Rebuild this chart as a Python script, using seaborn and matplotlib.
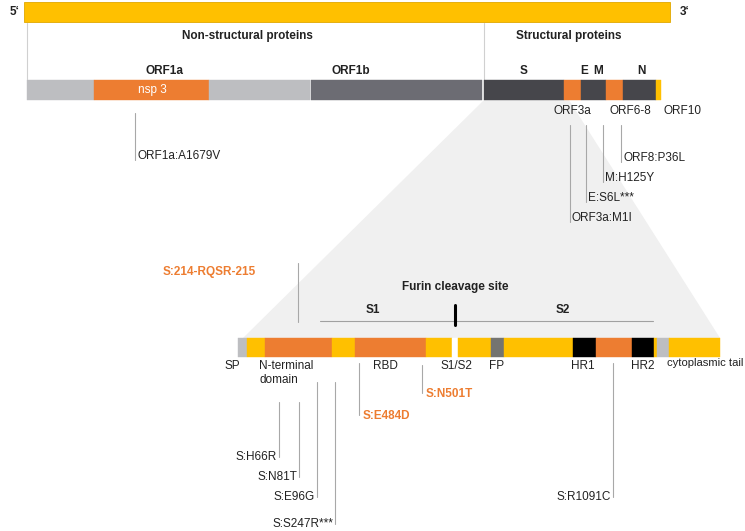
import matplotlib
matplotlib.use("Agg")
import matplotlib.pyplot as plt
import seaborn as sns

sns.set_theme(style="white")
plt.rcParams['font.family'] = ['Liberation Sans', 'DejaVu Sans']

# ---------------- data (diagram units) ----------------
YEL = "#FFC000"; ORA = "#ED7D31"; LG = "#BDBEC1"; G1B = "#6C6C73"
DK = "#46464B"; BLK = "#000000"; FPG = "#747470"; WHT = "#FFFFFF"

genome_start, genome_end = 24, 670

genome_seg_start = [27, 94, 209, 311, 484, 564, 581, 606, 623, 656]
genome_seg_end = [94, 209, 310, 482, 564, 581, 606, 623, 656, 661]
genome_seg_color = [LG, ORA, LG, G1B, DK, ORA, DK, ORA, DK, YEL]

genome_top_labels = ["ORF1a", "ORF1b", "S", "E", "M", "N"]
genome_top_x = [165, 351, 524, 584, 598, 641]
genome_bottom_labels = ["ORF3a", "ORF6-8", "ORF10"]
genome_bottom_x = [572, 630, 683]

genome_mut_labels = ["ORF1a:A1679V", "ORF3a:M1I", "E:S6L***", "M:H125Y", "ORF8:P36L"]
genome_mut_x = [135, 570, 586, 603, 621]
genome_mut_y0 = [113, 125, 125, 125, 125]
genome_mut_y1 = [160, 222, 202, 182, 162]

spike_seg_start = [238, 247, 265, 332, 355, 426, 452, 458, 491, 504, 573, 596, 632, 654, 657, 669]
spike_seg_end = [247, 265, 332, 355, 426, 452, 458, 491, 504, 573, 596, 632, 654, 657, 669, 720]
spike_seg_color = [LG, YEL, ORA, YEL, ORA, YEL, WHT, YEL, FPG, YEL, BLK, ORA, BLK, YEL, LG, YEL]

spike_labels = ["SP", "N-terminal", "domain", "RBD", "S1/S2", "FP", "HR1", "HR2", "cytoplasmic tail"]
spike_label_x = [240, 259, 259, 385, 456, 497, 583, 643, 667]
spike_label_y = [366, 366, 380, 366, 366, 366, 366, 366, 363]
spike_label_ha = ["right", "left", "left", "center", "center", "center", "center", "center", "left"]

spike_mut_labels = ["S:H66R", "S:N81T", "S:E96G", "S:S247R***", "S:E484D", "S:N501T", "S:R1091C", "S:214-RQSR-215"]
spike_mut_x = [279, 299, 317, 335, 359, 422, 613, 298]
spike_mut_y0 = [402, 402, 382, 382, 363, 365, 363, 263]
spike_mut_y1 = [457, 477, 497, 524, 415, 393, 497, 322]
spike_mut_key = [False, False, False, False, True, True, False, True]

# ---------------- figure ----------------
fig = plt.figure(figsize=(7.45, 5.31), dpi=100)
ax = fig.add_axes([0, 0, 1, 1])
ax.set_xlim(0, 745)
ax.set_ylim(531, 0)
ax.axis("off")

FS = 8.5
TXT = "#222222"
LINEC = "#A8A8A8"

# zoom wedge
ax.fill([484, 569, 720, 243], [100, 100, 338, 338], color="#F0F0F0", zorder=0, lw=0)

# top genome bar
ax.barh(12, genome_end - genome_start, left=genome_start, height=20, color=YEL,
        edgecolor="#E0A800", linewidth=0.6, zorder=2)
ax.text(10, 12, "5\u2018", fontsize=FS, fontweight="bold", va="center", ha="left", color=TXT)
ax.text(680, 12, "3\u2018", fontsize=FS, fontweight="bold", va="center", ha="left", color=TXT)

# divider lines
for xv in [27, 484]:
    ax.plot([xv, xv], [23, 79], color="#D0D0D0", lw=0.8, zorder=1)
ax.text(247, 36, "Non-structural proteins", fontsize=FS, fontweight="bold", ha="center", va="center", color=TXT)
ax.text(569, 36, "Structural proteins", fontsize=FS, fontweight="bold", ha="center", va="center", color=TXT)

# genome segments
for s, e, c in zip(genome_seg_start, genome_seg_end, genome_seg_color):
    ax.barh(90, e - s, left=s, height=20, color=c, edgecolor=c, linewidth=0.3, zorder=2)
ax.text(152, 90, "nsp 3", fontsize=FS, color="white", ha="center", va="center", zorder=3)
for lab, xv in zip(genome_top_labels, genome_top_x):
    ax.text(xv, 71, lab, fontsize=FS, fontweight="bold", ha="center", va="center", color=TXT)
for lab, xv in zip(genome_bottom_labels, genome_bottom_x):
    ax.text(xv, 111, lab, fontsize=FS, ha="center", va="center", color=TXT)

for lab, xv, y0, y1 in zip(genome_mut_labels, genome_mut_x, genome_mut_y0, genome_mut_y1):
    ax.plot([xv, xv], [y0, y1], color=LINEC, lw=0.8, zorder=1)
    ax.text(xv + 2, y1 - 4, lab, fontsize=FS, ha="left", va="center", color=TXT)

# spike region annotations
ax.text(455, 287, "Furin cleavage site", fontsize=FS, fontweight="bold", ha="center", va="center", color=TXT)
ax.text(373, 310, "S1", fontsize=FS, fontweight="bold", ha="center", va="center", color=TXT)
ax.text(563, 310, "S2", fontsize=FS, fontweight="bold", ha="center", va="center", color=TXT)
ax.plot([320, 653], [321, 321], color="#A0A0A0", lw=0.8, zorder=1)
ax.plot([455, 455], [305, 325], color="black", lw=2.2, zorder=2)

# spike bar
for s, e, c in zip(spike_seg_start, spike_seg_end, spike_seg_color):
    ax.barh(347.5, e - s, left=s, height=19, color=c, edgecolor=c, linewidth=0.3, zorder=2)
for lab, xv, yv, ha in zip(spike_labels, spike_label_x, spike_label_y, spike_label_ha):
    fs = 8.1 if lab == "cytoplasmic tail" else FS
    ax.text(xv, yv, lab, fontsize=fs, ha=ha, va="center", color=TXT)

# spike mutations
for lab, xv, y0, y1, key in zip(spike_mut_labels, spike_mut_x, spike_mut_y0, spike_mut_y1, spike_mut_key):
    ax.plot([xv, xv], [y0, y1], color=LINEC, lw=0.8, zorder=1)
    if lab == "S:214-RQSR-215":
        ax.text(163, 272, lab, fontsize=FS, fontweight="bold", color=ORA, ha="left", va="center")
    elif key:
        ax.text(xv + 4, y1 + 1, lab, fontsize=FS, fontweight="bold", color=ORA, ha="left", va="center")
    else:
        ax.text(xv - 2, y1, lab, fontsize=FS, ha="right", va="center", color=TXT)

fig.savefig("out.png", dpi=100)
